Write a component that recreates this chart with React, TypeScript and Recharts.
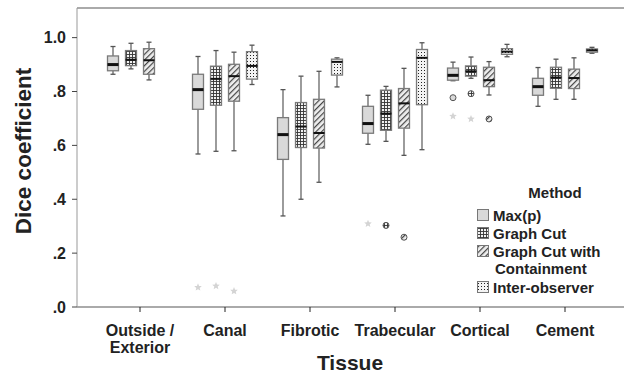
import React from 'react';
import { Bar, ComposedChart, ReferenceLine, XAxis, YAxis } from 'recharts';

// tissue categories (x axis)
const tissues = ['Outside /\nExterior', 'Canal', 'Fibrotic', 'Trabecular', 'Cortical', 'Cement'];

// box stats per tissue: [min, q1, median, q3, max]
const maxP = [
  [0.864, 0.877, 0.9, 0.932, 0.967],
  [0.568, 0.734, 0.807, 0.864, 0.93],
  [0.338, 0.548, 0.64, 0.703, 0.807],
  [0.604, 0.645, 0.681, 0.745, 0.786],
  [0.84, 0.842, 0.86, 0.887, 0.909],
  [0.745, 0.786, 0.818, 0.849, 0.889],
];
const graphCut = [
  [0.884, 0.896, 0.918, 0.952, 0.979],
  [0.578, 0.749, 0.847, 0.894, 0.952],
  [0.4, 0.592, 0.67, 0.759, 0.857],
  [0.615, 0.656, 0.718, 0.805, 0.819],
  [0.849, 0.857, 0.875, 0.895, 0.928],
  [0.771, 0.812, 0.852, 0.89, 0.92],
];
const graphCutContain = [
  [0.843, 0.864, 0.916, 0.959, 0.983],
  [0.58, 0.764, 0.857, 0.901, 0.946],
  [0.463, 0.59, 0.646, 0.771, 0.875],
  [0.563, 0.664, 0.756, 0.811, 0.886],
  [0.787, 0.818, 0.842, 0.89, 0.911],
  [0.771, 0.811, 0.85, 0.883, 0.925],
];
const interObserver = [
  null,
  [0.826, 0.846, 0.895, 0.948, 0.972],
  [0.817, 0.861, 0.91, 0.92, 0.925],
  [0.584, 0.751, 0.925, 0.956, 0.981],
  [0.929, 0.938, 0.948, 0.959, 0.975],
  [0.942, 0.946, 0.953, 0.958, 0.964],
];

// outliers per tissue: [kind, value]
const maxPOut = [[], [['star', 0.073]], [], [['star', 0.309]], [['circle', 0.777], ['star', 0.708]], []];
const graphCutOut = [[], [['star', 0.078]], [], [['circle', 0.303]], [['circle', 0.792], ['star', 0.698]], []];
const graphCutContainOut = [[], [['star', 0.059]], [], [['circle', 0.259]], [['circle', 0.698]], []];
const interObserverOut = [[], [], [], [], [], []];

const yTicks = [0, 0.2, 0.4, 0.6, 0.8, 1.0];

const series = [
  { key: 'maxP', name: 'Max(p)', fill: '#d9d9d9', stats: maxP, outliers: maxPOut, medW: 3 },
  { key: 'gc', name: 'Graph Cut', fill: 'url(#pGrid)', stats: graphCut, outliers: graphCutOut, medW: 2 },
  { key: 'gcc', name: 'Graph Cut with\nContainment', fill: 'url(#pHatch)', stats: graphCutContain, outliers: graphCutContainOut, medW: 2 },
  { key: 'io', name: 'Inter-observer', fill: 'url(#pDots)', stats: interObserver, outliers: interObserverOut, medW: 2 },
];

const data = tissues.map((tissue, i) => {
  const row: any = { tissue };
  series.forEach((s) => {
    row[s.key] = s.stats[i];
    row[s.key + 'Out'] = s.outliers[i];
  });
  return row;
});

const font = '"Liberation Sans", Arial, sans-serif';

function starPath(cx: number, cy: number, r: number) {
  let d = '';
  for (let k = 0; k < 10; k++) {
    const rad = k % 2 === 0 ? r : r * 0.45;
    const a = -Math.PI / 2 + (k * Math.PI) / 5;
    d += (k === 0 ? 'M' : 'L') + (cx + rad * Math.cos(a)).toFixed(2) + ' ' + (cy + rad * Math.sin(a)).toFixed(2);
  }
  return d + 'Z';
}

function BoxShape(props: any) {
  const { x, y, width, height, payload, s } = props;
  const st = payload[s.key];
  if (!st) return null;
  const [mn, q1, med, q3, mx] = st;
  const py = (v: number) => y + ((mx - v) / (mx - mn)) * height;
  const cx = x + width / 2;
  const outs = payload[s.key + 'Out'] || [];
  return (
    <g>
      <line x1={cx} x2={cx} y1={py(mx)} y2={py(q3)} stroke="#666" strokeWidth={1.3} />
      <line x1={cx} x2={cx} y1={py(q1)} y2={py(mn)} stroke="#666" strokeWidth={1.3} />
      <line x1={cx - 2.5} x2={cx + 2.5} y1={py(mx)} y2={py(mx)} stroke="#555" strokeWidth={1.3} />
      <line x1={cx - 2.5} x2={cx + 2.5} y1={py(mn)} y2={py(mn)} stroke="#555" strokeWidth={1.3} />
      <rect x={x} y={py(q3)} width={width} height={py(q1) - py(q3)} fill={s.fill} stroke="#7a7a7a" strokeWidth={1.3} />
      <line x1={x} x2={x + width} y1={py(med)} y2={py(med)} stroke="#111" strokeWidth={s.medW} />
      {outs.map((o: any, k: number) =>
        o[0] === 'star' ? (
          <path key={k} d={starPath(cx, py(o[1]), 4)} fill="#d4d4d4" />
        ) : (
          <circle key={k} cx={cx} cy={py(o[1])} r={3} fill={s.fill} stroke="#555" strokeWidth={1} />
        )
      )}
    </g>
  );
}

function TissueTick(props: any) {
  const { x, y, payload } = props;
  const lines = String(payload.value).split('\n');
  return (
    <text x={x} y={y + 22} textAnchor="middle" fontSize={16} fontWeight="bold" fill="#222" fontFamily={font}>
      {lines.map((l, i) => (
        <tspan key={i} x={x} dy={i === 0 ? 0 : 17}>{l}</tspan>
      ))}
    </text>
  );
}

export default function App() {
  return (
    <div style={{ position: 'absolute', left: 0, top: 0, width: 624, height: 374 }}>
      <svg width={0} height={0} style={{ position: 'absolute' }}>
        <defs>
          <pattern id="pGrid" width="3" height="3" patternUnits="userSpaceOnUse">
            <rect width="3" height="3" fill="#f2f2f2" />
            <path d="M0 0.5H3M0.5 0V3" stroke="#333" strokeWidth="0.9" />
          </pattern>
          <pattern id="pHatch" width="4" height="4" patternUnits="userSpaceOnUse" patternTransform="rotate(45)">
            <rect width="4" height="4" fill="#eeeeee" />
            <line x1="0.6" y1="0" x2="0.6" y2="4" stroke="#444" strokeWidth="1.2" />
          </pattern>
          <pattern id="pDots" width="3" height="3" patternUnits="userSpaceOnUse">
            <rect width="3" height="3" fill="#f4f4f4" />
            <rect x="1" y="1" width="1" height="1" fill="#222" />
          </pattern>
        </defs>
      </svg>
      <ComposedChart
        width={624}
        height={374}
        data={data}
        margin={{ top: 8, right: 0, bottom: 0, left: 0 }}
        barGap={7}
        barSize={11}
      >
        <XAxis
          dataKey="tissue"
          height={67}
          padding={{ left: 20.5, right: 16.5 }}
          axisLine={{ stroke: '#aaa', strokeWidth: 2 }}
          tickLine={{ stroke: '#222' }}
          tickSize={5}
          tick={<TissueTick />}
          interval={0}
          label={{
            content: () => (
              <text x={350} y={370} textAnchor="middle" fontSize={21} fontWeight="bold" fill="#222" fontFamily={font}>
                Tissue
              </text>
            ),
          }}
        />
        <YAxis
          width={77}
          domain={[0, 1.11]}
          ticks={yTicks}
          tickFormatter={(v: number) => v.toFixed(1).replace(/^0/, '')}
          axisLine={{ stroke: '#999' }}
          tickLine={{ stroke: '#444' }}
          tickSize={5}
          tickMargin={6}
          tick={{ fontSize: 16, fontWeight: 'bold', fill: '#222', fontFamily: font }}
          label={{
            content: () => (
              <text
                x={31}
                y={151}
                transform="rotate(-90, 31, 151)"
                textAnchor="middle"
                fontSize={22.5}
                fontWeight="bold"
                fill="#222"
                fontFamily={font}
              >
                Dice coefficient
              </text>
            ),
          }}
        />
        <ReferenceLine y={1.11} stroke="#aaa" strokeWidth={2} />
        {series.map((s) => (
          <Bar
            key={s.key}
            name={s.name}
            dataKey={(d: any) => (d[s.key] ? [d[s.key][0], d[s.key][4]] : null)}
            shape={(p: any) => <BoxShape {...p} s={s} />}
            isAnimationActive={false}
          />
        ))}
      </ComposedChart>
      <svg width={624} height={374} style={{ position: 'absolute', left: 0, top: 0, pointerEvents: 'none' }}>
        <text x={555} y={198} textAnchor="middle" fontSize={15} fontWeight="bold" fill="#222" fontFamily={font}>
          Method
        </text>
        {series.map((s, i) => {
          const base = [221, 239, 257, 293][i];
          const lines = s.name.split('\n');
          return (
            <g key={s.key}>
              <rect x={477.5} y={base - 11.5} width={11} height={11} fill={s.fill} stroke="#777" strokeWidth={1} />
              <text x={493} y={base} fontSize={15} fontWeight="bold" fill="#222" fontFamily={font}>
                {lines.map((l, k) => (
                  <tspan key={k} x={k === 0 ? 493 : 495} dy={k === 0 ? 0 : 17}>{l}</tspan>
                ))}
              </text>
            </g>
          );
        })}
      </svg>
    </div>
  );
}
